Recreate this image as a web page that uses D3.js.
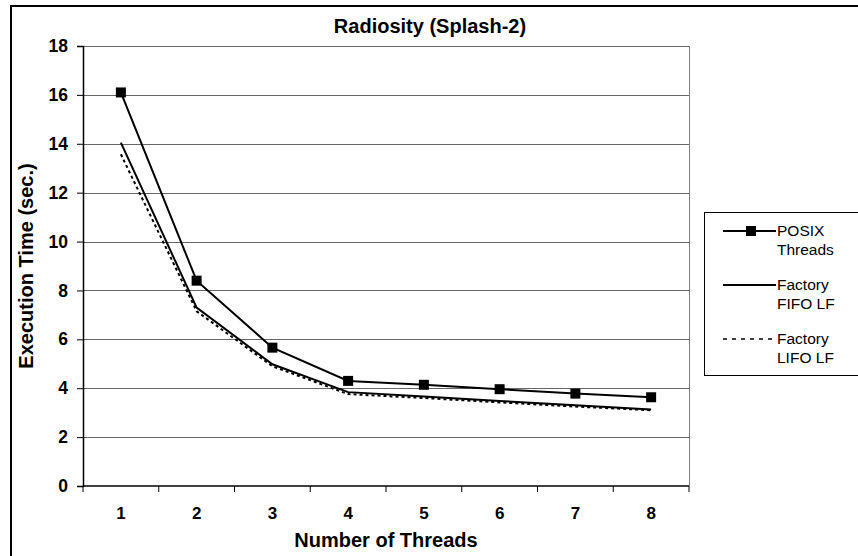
<!DOCTYPE html>
<html lang="en">
<head>
  <meta charset="UTF-8">
  <title>Radiosity (Splash-2)</title>
  <script src="https://d3js.org/d3.v7.min.js"></script>
  <style>
    body { margin: 0; background: #fff; }
    text { font-family: Arial, "Liberation Sans", sans-serif; fill: #000; }
  </style>
</head>
<body>
  <div id="chart"></div>
  <script>

  // chart data
  const threads = [1, 2, 3, 4, 5, 6, 7, 8];
  const posix   = [16.1, 8.4, 5.66, 4.3, 4.14, 3.96, 3.78, 3.63];
  const fifo    = [14.05, 7.3, 4.98, 3.84, 3.66, 3.48, 3.3, 3.13];
  const lifo    = [13.57, 7.15, 4.9, 3.76, 3.6, 3.42, 3.25, 3.1];
  const yTicks  = [0, 2, 4, 6, 8, 10, 12, 14, 16, 18];
  const seriesNames = [["POSIX", "Threads"], ["Factory", "FIFO LF"], ["Factory", "LIFO LF"]];

  const width = 858;
  const height = 556;
  const margin = {top: 46, left: 83, right: 169, bottom: 70};
  const plotWidth = width - margin.left - margin.right;
  const plotHeight = height - margin.top - margin.bottom;

  const svg = d3.select("#chart")
    .append("svg")
      .attr("width", width)
      .attr("height", height);

  // outer frame (runs off the right/bottom edge like the original)
  svg.append("rect")
    .attr("x", 11).attr("y", 6)
    .attr("width", 870).attr("height", 570)
    .attr("fill", "none")
    .attr("stroke", "#000")
    .attr("stroke-width", 2);

  const g = svg.append("g")
    .attr("transform", "translate(" + margin.left + "," + margin.top + ")");

  const x = d3.scaleBand()
    .domain(threads)
    .range([0, plotWidth]);

  const y = d3.scaleLinear()
    .domain([0, 18])
    .range([plotHeight, 0]);

  // gridlines
  g.append("g")
    .selectAll("line")
    .data(yTicks.filter(d => d > 0))
    .enter()
    .append("line")
      .attr("x1", 0).attr("x2", plotWidth)
      .attr("y1", d => Math.round(y(d)) + 0.5)
      .attr("y2", d => Math.round(y(d)) + 0.5)
      .attr("stroke", "#666");

  // right border of plot area
  g.append("line")
    .attr("x1", plotWidth + 0.5).attr("x2", plotWidth + 0.5)
    .attr("y1", 0).attr("y2", plotHeight)
    .attr("stroke", "#808080");

  // y axis
  const yAxis = g.append("g")
    .call(d3.axisLeft(y).tickValues(yTicks).tickSize(6).tickPadding(9));
  yAxis.select(".domain").attr("stroke", "#000").attr("stroke-width", 1.5);
  yAxis.selectAll("text")
    .style("font-size", "17.5px")
    .style("font-weight", "bold")
    .style("font-family", "Arial, 'Liberation Sans', sans-serif");

  // x axis: ticks sit between categories
  const xAxis = g.append("g")
    .attr("transform", "translate(0," + plotHeight + ")");
  xAxis.append("line")
    .attr("x1", 0).attr("x2", plotWidth)
    .attr("stroke", "#000").attr("stroke-width", 1.5);
  xAxis.selectAll(".tk")
    .data(threads.concat([threads.length + 1]))
    .enter()
    .append("line")
      .attr("x1", (d, i) => i * x.bandwidth())
      .attr("x2", (d, i) => i * x.bandwidth())
      .attr("y1", 0).attr("y2", 6)
      .attr("stroke", "#000");
  xAxis.selectAll(".lbl")
    .data(threads)
    .enter()
    .append("text")
      .attr("x", d => x(d) + x.bandwidth() / 2)
      .attr("y", 33)
      .attr("text-anchor", "middle")
      .style("font-size", "17px")
      .style("font-weight", "bold")
      .text(d => d);

  const cx = d => x(d) + x.bandwidth() / 2;

  const line = d3.line()
    .x((d, i) => cx(threads[i]))
    .y(d => y(d));

  g.append("path")
    .datum(lifo)
    .attr("d", line)
    .attr("fill", "none")
    .attr("stroke", "#000")
    .attr("stroke-width", 2)
    .attr("stroke-dasharray", "3,3");

  g.append("path")
    .datum(fifo)
    .attr("d", line)
    .attr("fill", "none")
    .attr("stroke", "#000")
    .attr("stroke-width", 2);

  g.append("path")
    .datum(posix)
    .attr("d", line)
    .attr("fill", "none")
    .attr("stroke", "#000")
    .attr("stroke-width", 2);

  g.selectAll(".sq")
    .data(posix)
    .enter()
    .append("rect")
      .attr("x", (d, i) => cx(threads[i]) - 5)
      .attr("y", d => y(d) - 5)
      .attr("width", 10).attr("height", 10)
      .attr("fill", "#000");

  // titles
  svg.append("text")
    .attr("x", 430).attr("y", 33)
    .attr("text-anchor", "middle")
    .style("font-size", "20px")
    .style("font-weight", "bold")
    .text("Radiosity (Splash-2)");

  svg.append("text")
    .attr("x", 386).attr("y", 547)
    .attr("text-anchor", "middle")
    .style("font-size", "20px")
    .style("font-weight", "bold")
    .text("Number of Threads");

  svg.append("text")
    .attr("transform", "translate(33,266) rotate(-90)")
    .attr("text-anchor", "middle")
    .style("font-size", "20px")
    .style("font-weight", "bold")
    .text("Execution Time (sec.)");

  // legend
  const legend = svg.append("g");
  legend.append("rect")
    .attr("x", 704.5).attr("y", 212.5)
    .attr("width", 170).attr("height", 163)
    .attr("fill", "#fff")
    .attr("stroke", "#000");

  const legendY = [231, 285, 339];
  seriesNames.forEach((names, i) => {
    const ly = legendY[i];
    legend.append("line")
      .attr("x1", 723).attr("x2", 776)
      .attr("y1", ly).attr("y2", ly)
      .attr("stroke", "#000")
      .attr("stroke-width", i === 2 ? 1.5 : 2)
      .attr("stroke-dasharray", i === 2 ? "4,5" : null);
    if (i === 0) {
      legend.append("rect")
        .attr("x", 746).attr("y", ly - 5)
        .attr("width", 10).attr("height", 10)
        .attr("fill", "#000");
    }
    names.forEach((t, j) => {
      legend.append("text")
        .attr("x", 777)
        .attr("y", ly + 5 + j * 19)
        .style("font-size", "15.5px")
        .text(t);
    });
  });

  </script>
</body>
</html>
